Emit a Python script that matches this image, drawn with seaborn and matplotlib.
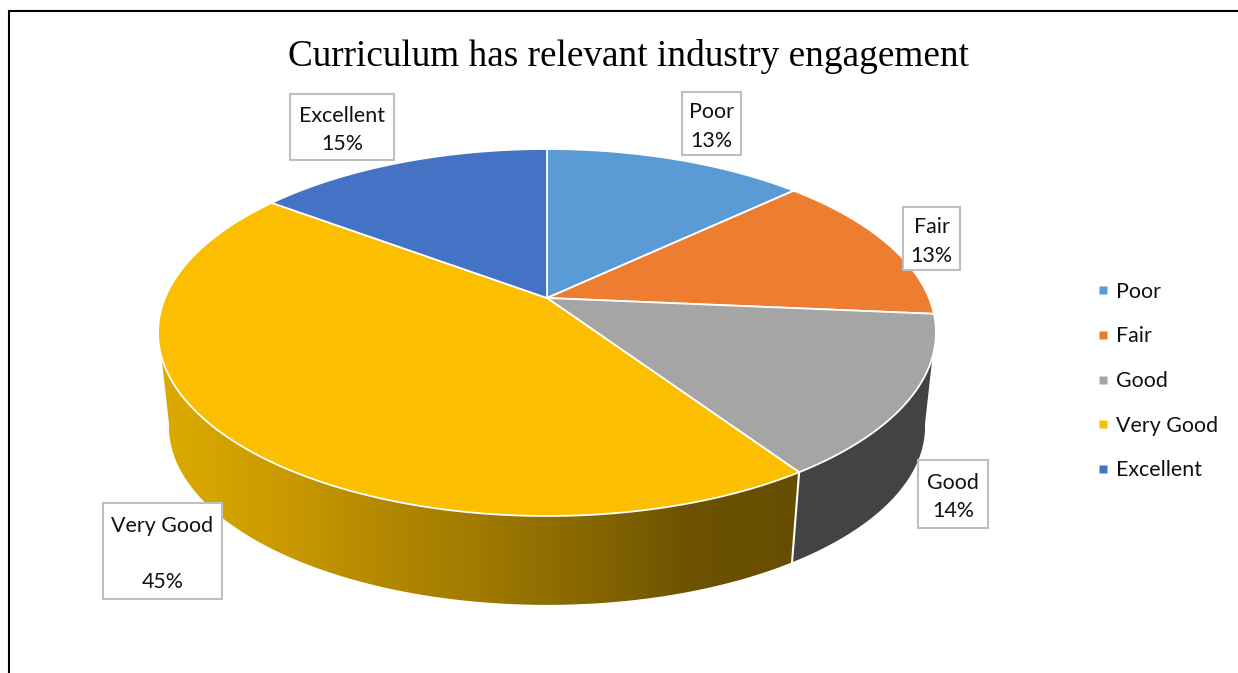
import numpy as np
import matplotlib
matplotlib.use('Agg')
import matplotlib.pyplot as plt
from matplotlib.colors import LinearSegmentedColormap
from matplotlib.lines import Line2D
from matplotlib.patches import Polygon, Rectangle
import seaborn as sns

categories = ['Poor', 'Fair', 'Good', 'Very Good', 'Excellent']
# slice shares, the labels round them
shares = [13.0, 13.4, 14.2, 44.6, 14.8]
title = 'Curriculum has relevant industry engagement'

top_colors = ['#5B9BD5', '#ED7D31', '#A5A5A5', '#FBBF00', '#4472C4']
good_side_color = '#434343'
gold_side_colors = ['#DCAB00', '#CC9C00', '#B58A00', '#A07A00', '#866700', '#6C5200', '#664D00']

# pie geometry in image pixels
cx, cy = 547, 298
rx, ry, persp = 382, 177, 0.188
depth, shrink = 95, 0.972


def rim(theta_deg, lower=False):
    """Project angles (clockwise from 12 o'clock) on to the tilted disc."""
    t = np.radians(theta_deg)
    d = 1 + persp * np.cos(t)
    x = rx * np.sin(t) / d
    y = -ry * np.cos(t) / d
    if lower:
        return np.column_stack([cx + x * shrink, cy + y * shrink + depth])
    return np.column_stack([cx + x, cy + y])


def arc(a, b, lower=False):
    return rim(np.linspace(a, b, max(int(abs(b - a) * 2), 2)), lower)


sns.set_theme(style='white')
fig = plt.figure(figsize=(12.38, 6.73), dpi=100)
ax = fig.add_axes([0, 0, 1, 1])

edges = np.concatenate([[0], np.cumsum(shares)]) / sum(shares) * 360
good_end = edges[3]

# side wall
side_start, side_end = 108.3, 251.7
good_side = np.vstack([arc(side_start, good_end), arc(good_end, 100, True)])
ax.add_patch(Polygon(good_side, closed=True, fc=good_side_color, ec='none', zorder=2))

gold_side = np.vstack([arc(good_end, side_end), arc(260, good_end, True)])
gold_patch = Polygon(gold_side, closed=True, fc='none', ec='none', zorder=2)
ax.add_patch(gold_patch)
cmap = LinearSegmentedColormap.from_list('gold_side', gold_side_colors)
img = ax.imshow(np.linspace(0, 1, 256)[None, :], cmap=cmap, aspect='auto',
                extent=(160, 802, 620, 300), zorder=2)
img.set_clip_path(gold_patch)

seam = np.vstack([rim(good_end), rim(good_end, True)])
ax.plot(seam[:, 0], seam[:, 1], color='white', lw=1.5, zorder=3)

# top of the pie
for start, end, color in zip(edges[:-1], edges[1:], top_colors):
    pts = np.vstack([[cx, cy], arc(start, end)])
    ax.add_patch(Polygon(pts, closed=True, fc=color, ec='white', lw=1.3,
                         joinstyle='round', zorder=4))

# data labels
boxes = [(682, 92, 59, 63), (903, 207, 57, 63), (918, 460, 70, 68),
         (103, 503, 119, 96), (290, 94, 104, 66)]
for name, share, (bx, by, bw, bh) in zip(categories, shares, boxes):
    ax.add_patch(Rectangle((bx, by), bw, bh, fc='white', ec='#BFBFBF', lw=1.5, zorder=5))
    gap = '\n\n' if name == 'Very Good' else '\n'
    ax.text(bx + bw / 2, by + bh / 2 + 3, f'{name}{gap}{share:.0f}%', ha='center', va='center',
            family='Lato', fontsize=15.4, color='#111111', linespacing=1.53, zorder=6)

handles = [Line2D([], [], ls='none', marker='s', ms=6.2, mfc=c, mec='none') for c in top_colors]
ax.legend(handles, categories, loc='center left', bbox_to_anchor=(1092 / 1238, 1 - 381 / 673),
          frameon=False, prop={'family': 'Lato', 'size': 15.4}, labelcolor='#111111',
          handlelength=1.0, handletextpad=0.11, labelspacing=1.15, borderpad=0, borderaxespad=0)

ax.text(629, 57, title, ha='center', va='center', family='Liberation Serif',
        fontsize=26.8, color='black')

# frame of the screenshot
ax.plot([9, 9, 1238], [673, 11, 11], color='black', lw=1.5, zorder=7, solid_joinstyle='miter')

ax.set_xlim(0, 1238)
ax.set_ylim(673, 0)
ax.axis('off')
fig.savefig('out.png', dpi=100)
